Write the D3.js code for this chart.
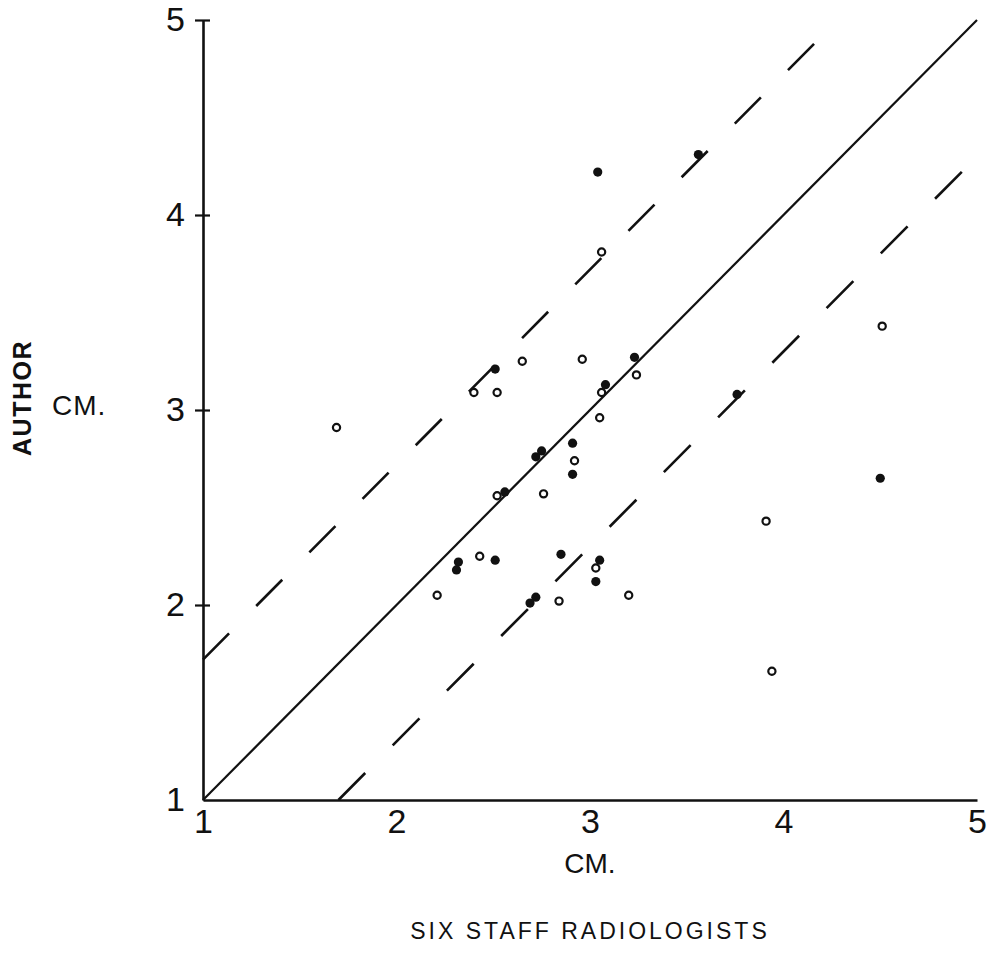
<!DOCTYPE html>
<html>
<head>
<meta charset="utf-8">
<script src="https://cdn.jsdelivr.net/npm/d3@7"></script>
<style>
  body { margin: 0; background: #fff; }
  text { font-family: "Liberation Sans", Arial, sans-serif; fill: #111; }
</style>
</head>
<body>
<div id="chart"></div>
<script>
// Data (values in cm)
var tickValues = [1, 2, 3, 4, 5];
var tickLabels = ["1", "2", "3", "4", "5"];

// filled dots: [staff, author]
var filledX = [3.04, 3.56, 2.51, 3.23, 3.08, 2.75, 2.72, 2.91, 2.91, 2.56, 3.76, 4.50, 2.32, 2.31, 2.51, 2.85, 3.05, 3.03, 2.72, 2.69];
var filledY = [4.22, 4.31, 3.21, 3.27, 3.13, 2.79, 2.76, 2.83, 2.67, 2.58, 3.08, 2.65, 2.22, 2.18, 2.23, 2.26, 2.23, 2.12, 2.04, 2.01];

// open circles
var openX = [3.06, 2.65, 2.96, 3.24, 2.40, 2.52, 3.06, 3.05, 2.92, 2.52, 2.76, 4.51, 3.91, 3.94, 1.69, 2.43, 3.03, 2.21, 2.84, 3.20];
var openY = [3.81, 3.25, 3.26, 3.18, 3.09, 3.09, 3.09, 2.96, 2.74, 2.56, 2.57, 3.43, 2.43, 1.66, 2.91, 2.25, 2.19, 2.05, 2.02, 2.05];

// line of identity and the two dashed limit lines
var identityLine = [[1, 1], [5, 5]];
var upperLimit = [[1, 1.72], [4.2, 4.92]];
var lowerLimit = [[1.70, 1], [4.93, 4.23]];

var margin = { top: 20, right: 12, bottom: 157, left: 203 },
    width = 989 - margin.left - margin.right,
    height = 957 - margin.top - margin.bottom;

var svg = d3.select("#chart")
    .append("svg")
    .attr("width", 989)
    .attr("height", 957)
    .append("g")
    .attr("transform", "translate(" + margin.left + "," + margin.top + ")");

var x = d3.scaleLinear().domain([1, 5]).range([0, width]);
var y = d3.scaleLinear().domain([1, 5]).range([height, 0]);

// X axis (no tick marks in the original)
var xAxis = svg.append("g")
    .attr("transform", "translate(0," + height + ")")
    .call(d3.axisBottom(x).tickValues(tickValues)
        .tickFormat(function (d, i) { return tickLabels[i]; })
        .tickSize(0).tickPadding(9));
xAxis.select(".domain").attr("stroke", "#111").attr("stroke-width", 2.6);
xAxis.selectAll("text").attr("font-size", 34).style("font-family", "Liberation Sans, Arial, sans-serif");

// Y axis with small crossing ticks
var yAxis = svg.append("g")
    .call(d3.axisLeft(y).tickValues(tickValues)
        .tickFormat(function (d, i) { return tickLabels[i]; })
        .tickSize(0).tickPadding(18));
yAxis.select(".domain").attr("stroke", "#111").attr("stroke-width", 2.6);
yAxis.selectAll("text").attr("font-size", 34).style("font-family", "Liberation Sans, Arial, sans-serif");
yAxis.selectAll(".tick").filter(function (d) { return d > 1; })
    .append("line")
    .attr("x1", -8).attr("x2", 7)
    .attr("stroke", "#111").attr("stroke-width", 2.2);

var line = d3.line()
    .x(function (d) { return x(d[0]); })
    .y(function (d) { return y(d[1]); });

svg.append("path")
    .datum(identityLine)
    .attr("fill", "none")
    .attr("stroke", "#111")
    .attr("stroke-width", 2.2)
    .attr("d", line);

svg.append("path")
    .datum(upperLimit)
    .attr("fill", "none")
    .attr("stroke", "#111")
    .attr("stroke-width", 2.6)
    .attr("stroke-dasharray", "37,38.5")
    .attr("d", line);

svg.append("path")
    .datum(lowerLimit)
    .attr("fill", "none")
    .attr("stroke", "#111")
    .attr("stroke-width", 2.6)
    .attr("stroke-dasharray", "38,39")
    .attr("d", line);

// points
svg.selectAll(".open")
    .data(openX)
    .enter().append("circle")
    .attr("class", "open")
    .attr("cx", function (d) { return x(d); })
    .attr("cy", function (d, i) { return y(openY[i]); })
    .attr("r", 3.6)
    .attr("fill", "#fff")
    .attr("stroke", "#111")
    .attr("stroke-width", 2.2);

svg.selectAll(".filled")
    .data(filledX)
    .enter().append("circle")
    .attr("class", "filled")
    .attr("cx", function (d) { return x(d); })
    .attr("cy", function (d, i) { return y(filledY[i]); })
    .attr("r", 4.6)
    .attr("fill", "#111");

// titles
svg.append("text")
    .attr("x", x(3))
    .attr("y", height + 73)
    .attr("text-anchor", "middle")
    .attr("font-size", 28)
    .text("CM.");

svg.append("text")
    .attr("x", x(3))
    .attr("y", height + 139)
    .attr("text-anchor", "middle")
    .attr("font-size", 23)
    .attr("letter-spacing", 3)
    .text("SIX STAFF RADIOLOGISTS");

svg.append("text")
    .attr("x", -margin.left + 52)
    .attr("y", y(3) + 5)
    .attr("font-size", 28)
    .attr("letter-spacing", 1)
    .text("CM.");

svg.append("text")
    .attr("transform", "translate(" + (-margin.left + 31) + "," + (y(3) - 12) + ") rotate(-90)")
    .attr("text-anchor", "middle")
    .attr("font-size", 25)
    .attr("font-weight", "bold")
    .attr("letter-spacing", 1.5)
    .text("AUTHOR");
</script>
</body>
</html>
